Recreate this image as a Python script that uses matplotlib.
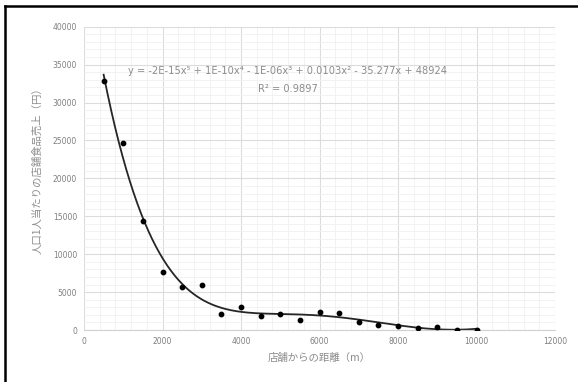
import numpy as np
import matplotlib
matplotlib.use("Agg")
import matplotlib.pyplot as plt
from matplotlib.lines import Line2D
from matplotlib.ticker import MultipleLocator

plt.rcParams['font.family'] = ['Noto Sans CJK JP', 'DejaVu Sans']

distance = [500, 1000, 1500, 2000, 2500, 3000, 3500, 4000, 4500, 5000,
            5500, 6000, 6500, 7000, 7500, 8000, 8500, 9000, 9500, 10000]
sales = [32800, 24700, 14400, 7700, 5700, 5950, 2100, 3000, 1900, 2100,
         1350, 2400, 2250, 1100, 700, 520, 280, 400, 60, 60]
x_ticks = [0, 2000, 4000, 6000, 8000, 10000, 12000]
y_ticks = [0, 5000, 10000, 15000, 20000, 25000, 30000, 35000, 40000]
equation = "y = -2E-15x⁵ + 1E-10x⁴ - 1E-06x³ + 0.0103x² - 35.277x + 48924"
r2_text = "R² = 0.9897"
xlabel = "店舗からの距離（m）"
ylabel = "人口1人当たりの店舗食品売上（円）"

W, H = 578, 382
fig = plt.figure(figsize=(W / 100, H / 100), dpi=100)
ax = fig.add_axes([84 / W, 1 - 330 / H, (555 - 84) / W, (330 - 26.7) / H])

ax.set_xlim(0, 12000)
ax.set_ylim(0, 40000)
ax.set_xticks(x_ticks)
ax.set_yticks(y_ticks)
ax.xaxis.set_minor_locator(MultipleLocator(400))
ax.yaxis.set_minor_locator(MultipleLocator(1000))
ax.grid(which='major', color='#dcdcdc', lw=0.8)
ax.grid(which='minor', color='#f0f0f0', lw=0.6)
ax.set_axisbelow(True)
for s in ['top', 'right', 'left']:
    ax.spines[s].set_visible(False)
ax.spines['bottom'].set_color('#d0d0d0')
ax.tick_params(which='both', length=0, labelsize=5.5, colors='#7f7f7f', pad=5)
for lab in ax.get_xticklabels() + ax.get_yticklabels():
    lab.set_family(['DejaVu Sans'])

# trendline (5th order polynomial)
coef = np.polyfit(distance, sales, 5)
xs = np.linspace(min(distance), max(distance), 300)
ax.plot(xs, np.polyval(coef, xs), color='#262626', lw=1.3, zorder=2)
ax.scatter(distance, sales, s=10, color='black', zorder=3)

ax.text(288 / W, 1 - 71 / H, equation, transform=fig.transFigure,
        ha='center', va='center', fontsize=7.1, color='#8c8c8c',
        family=['DejaVu Sans'])
ax.text(288 / W, 1 - 89 / H, r2_text, transform=fig.transFigure,
        ha='center', va='center', fontsize=7.1, color='#8c8c8c',
        family=['DejaVu Sans'])

fig.text(319 / W, 1 - 358 / H, xlabel, ha='center', va='center',
         fontsize=7.5, color='#8c8c8c')
fig.text(37 / W, 1 - 168 / H, ylabel, ha='center', va='center',
         rotation=90, fontsize=7.5, color='#8c8c8c')

# frame borders (left & top)
fig.add_artist(Line2D([5 / W, 5 / W], [0, 1 - 6 / H], transform=fig.transFigure,
                      color='black', lw=1.8))
fig.add_artist(Line2D([5 / W, 1], [1 - 6 / H, 1 - 6 / H], transform=fig.transFigure,
                      color='black', lw=1.8))

fig.savefig('out.png', dpi=100)
